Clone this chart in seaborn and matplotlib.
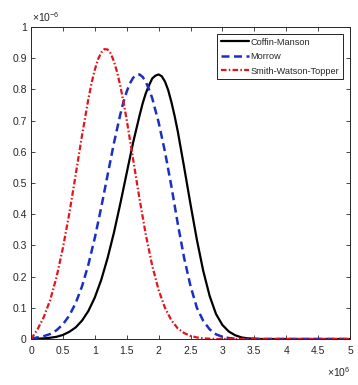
import numpy as np
import matplotlib
matplotlib.use('Agg')
import matplotlib.pyplot as plt
import seaborn as sns

# fatigue life in units of 1e6, densities in units of 1e-6
life = np.linspace(0, 5, 51)

coffin_manson = [0.000, 0.001, 0.002, 0.004, 0.007, 0.013, 0.023, 0.037, 0.059, 0.090,
                 0.133, 0.189, 0.259, 0.341, 0.434, 0.532, 0.629, 0.715, 0.788, 0.835,
                 0.848, 0.825, 0.760, 0.666, 0.551, 0.432, 0.318, 0.218, 0.138, 0.080,
                 0.045, 0.024, 0.012, 0.005, 0.002, 0.001] + [0.0] * 15

morrow = [0.001, 0.005, 0.009, 0.016, 0.028, 0.047, 0.075, 0.115, 0.169, 0.239,
          0.324, 0.421, 0.525, 0.628, 0.720, 0.793, 0.837, 0.848, 0.824, 0.772,
          0.695, 0.600, 0.490, 0.370, 0.260, 0.170, 0.100, 0.058, 0.031, 0.015,
          0.007, 0.003, 0.001] + [0.0] * 18

swt = [0.000, 0.030, 0.070, 0.125, 0.198, 0.292, 0.402, 0.526, 0.653, 0.770,
       0.863, 0.918, 0.928, 0.890, 0.811, 0.702, 0.577, 0.450, 0.334, 0.235,
       0.157, 0.100, 0.060, 0.034, 0.019, 0.010, 0.005, 0.002, 0.001] + [0.0] * 22

# extra readings around each peak
cm_peak_x = [1.75, 1.85, 1.95, 2.05, 2.15, 2.25]
cm_peak_y = [0.755, 0.813, 0.844, 0.842, 0.798, 0.716]
morrow_peak_x = [1.45, 1.55, 1.65, 1.75, 1.85, 1.95]
morrow_peak_y = [0.760, 0.819, 0.846, 0.840, 0.800, 0.733]
swt_peak_x = [0.95, 1.05, 1.15, 1.25, 1.35, 1.45]
swt_peak_y = [0.821, 0.896, 0.929, 0.915, 0.855, 0.760]

models = ['Coffin-Manson', 'Morrow', 'Smith-Watson-Topper']
x_ticks = [0, 0.5, 1, 1.5, 2, 2.5, 3, 3.5, 4, 4.5, 5]
y_ticks = [0, 0.1, 0.2, 0.3, 0.4, 0.5, 0.6, 0.7, 0.8, 0.9, 1]

colors = ['black', '#1c2fc4', '#e3141c']
widths = [1.6, 1.8, 1.6]
dash_seq = [None, (3.2, 1.8), (2.5, 1.0, 0.7, 1.0)]


def merge(base_y, px, py):
    x = np.concatenate([life, px])
    y = np.concatenate([base_y, py])
    order = np.argsort(x)
    return x[order], y[order]


curves = [merge(coffin_manson, cm_peak_x, cm_peak_y),
          merge(morrow, morrow_peak_x, morrow_peak_y),
          merge(swt, swt_peak_x, swt_peak_y)]

sns.set_style('ticks')
plt.rcParams['font.family'] = ['Liberation Sans', 'DejaVu Sans']
plt.rcParams['mathtext.fontset'] = 'custom'
plt.rcParams['mathtext.rm'] = 'Liberation Sans'

fig = plt.figure(figsize=(3.58, 3.85), dpi=100)
ax = fig.add_axes([31 / 358, 46 / 385, 319 / 358, 312 / 385])

for name, (xs, ys), c, lw, ds in zip(models, curves, colors, widths, dash_seq):
    sns.lineplot(x=xs, y=ys, color=c, linewidth=lw, label=name, sort=False,
                 estimator=None, ax=ax)
    if ds is not None:
        ax.get_lines()[-1].set_dashes(ds)

ax.set_xlim(0, 5)
ax.set_ylim(0, 1)
ax.set_xticks(x_ticks)
ax.set_yticks(y_ticks)
ax.set_xticklabels([f'{t:g}' for t in x_ticks])
ax.set_yticklabels([f'{t:g}' for t in y_ticks])
ax.set_xlabel('')
ax.set_ylabel('')

ax.tick_params(direction='in', length=3, width=0.6, top=True, right=True,
               labelsize=7.5, colors='#262626')
ax.tick_params(axis='x', pad=5)
ax.tick_params(axis='y', pad=3)
for sp in ax.spines.values():
    sp.set_color('#262626')
    sp.set_linewidth(0.7)

ax.text(0.003, 1.01, r'$\mathregular{\times10^{-6}}$', transform=ax.transAxes,
        ha='left', va='bottom', fontsize=7.5, color='#262626')
ax.text(1.0, -0.083, r'$\mathregular{\times10^{6}}$', transform=ax.transAxes,
        ha='right', va='top', fontsize=7.5, color='#262626')

leg = ax.legend(loc='upper right', frameon=True, fancybox=False, edgecolor='black',
                framealpha=1, fontsize=6.6, handlelength=3.1, handletextpad=0.15,
                borderpad=0.4, labelspacing=0.6, borderaxespad=0.75)
leg.get_frame().set_linewidth(0.6)

fig.savefig('out.png', dpi=100)
